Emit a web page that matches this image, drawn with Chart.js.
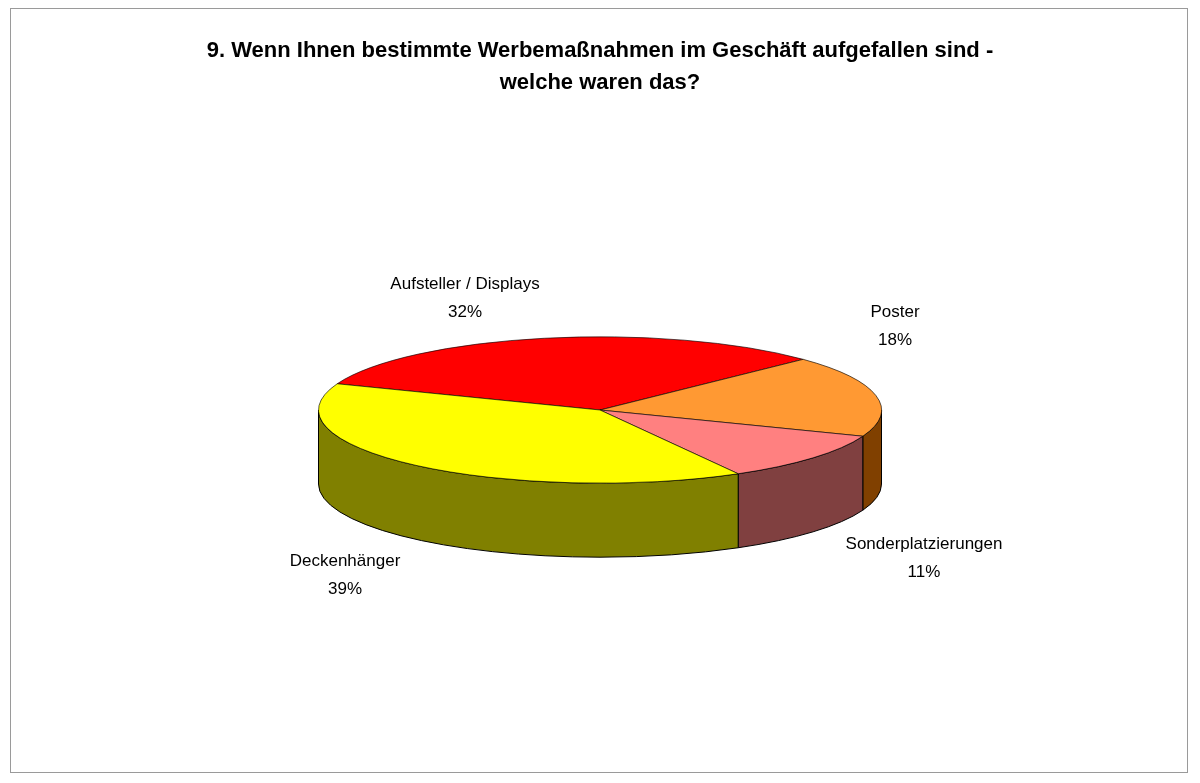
<!DOCTYPE html>
<html><head><meta charset="utf-8">
<script src="https://cdn.jsdelivr.net/npm/chart.js@4"></script>
<style>
html,body{margin:0;padding:0;background:#fff;}
#wrap{position:relative;width:1200px;height:783px;}
#frame{position:absolute;left:10px;top:8px;width:1178px;height:765px;border:1px solid #9a9a9a;box-sizing:border-box;pointer-events:none;}
#title{position:absolute;left:0;top:34px;width:1200px;text-align:center;font:bold 22px "Liberation Sans",Arial,sans-serif;line-height:32px;color:#000;}
</style></head><body>
<div id="wrap">
<canvas id="c" width="1200" height="783"></canvas>
<div id="frame"></div>
<div id="title">9. Wenn Ihnen bestimmte Werbemaßnahmen im Geschäft aufgefallen sind -<br>welche waren das?</div>
</div>
<script>
const categories = ["Aufsteller / Displays", "Poster", "Sonderplatzierungen", "Deckenhänger"];
const values = [32, 18, 11, 39];
const topColors = ["#ff0000", "#ff9933", "#ff8080", "#ffff00"];
const sideColors = ["#800000", "#804000", "#804040", "#808000"];
const labelAnchors = [[465, 284], [895, 312], [924, 544], [345, 561]];

const SQUASH = 0.26, DEPTH = 74;

const pie3d = {
  id: 'pie3d',
  beforeDatasetsDraw(chart) {
    const ctx = chart.ctx;
    const arcs = chart.getDatasetMeta(0).data;
    if (!arcs.length) return;
    const cx = arcs[0].x, cy = arcs[0].y, rx = arcs[0].outerRadius, ry = rx * SQUASH;
    ctx.save();
    ctx.strokeStyle = '#000'; ctx.lineWidth = 1;
    arcs.forEach((a, i) => {
      let s = a.startAngle, e = a.endAngle;
      // normalise to [0, 2π)
      const TAU = Math.PI * 2;
      for (let k = -1; k <= 1; k++) {
        let a1 = Math.max(s + k * TAU, 0), a2 = Math.min(e + k * TAU, Math.PI);
        if (a2 <= a1) continue;
        ctx.beginPath();
        ctx.ellipse(cx, cy, rx, ry, 0, a1, a2, false);
        ctx.lineTo(cx + rx * Math.cos(a2), cy + ry * Math.sin(a2) + DEPTH);
        ctx.ellipse(cx, cy + DEPTH, rx, ry, 0, a2, a1, true);
        ctx.closePath();
        ctx.fillStyle = sideColors[i];
        ctx.fill(); ctx.stroke();
      }
    });
    ctx.restore();
    ctx.save();
    ctx.translate(cx, cy); ctx.scale(1, SQUASH); ctx.translate(-cx, -cy);
  },
  afterDatasetsDraw(chart) {
    chart.ctx.restore();
    const ctx = chart.ctx;
    ctx.save();
    ctx.fillStyle = '#000';
    ctx.font = '17px "Liberation Sans", Arial, sans-serif';
    ctx.textAlign = 'center'; ctx.textBaseline = 'middle';
    const total = values.reduce((a, b) => a + b, 0);
    categories.forEach((c, i) => {
      const [x, y] = labelAnchors[i];
      ctx.fillText(c, x, y);
      ctx.fillText(Math.round(values[i] / total * 100) + '%', x, y + 28);
    });
    ctx.restore();
  }
};

new Chart(document.getElementById('c'), {
  type: 'pie',
  data: { labels: categories, datasets: [{ data: values, backgroundColor: topColors, borderColor: '#000', borderWidth: 1 }] },
  options: {
    responsive: false, animation: false, rotation: -69,
    layout: { padding: { left: 318, right: 318, top: 128, bottom: 91 } },
    plugins: { legend: { display: false }, tooltip: { enabled: false }, title: { display: false } }
  },
  plugins: [pie3d]
});
</script>
</body></html>
